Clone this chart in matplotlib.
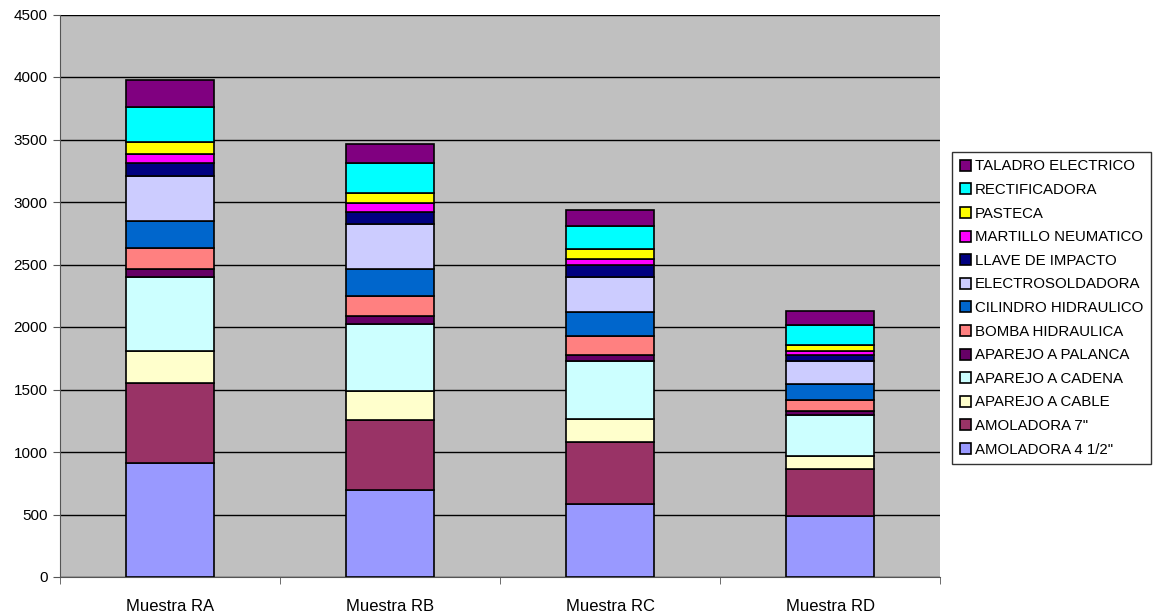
import matplotlib.pyplot as plt
import numpy as np

plt.rcParams['font.family'] = ['Liberation Sans', 'DejaVu Sans']

muestras = ["Muestra RA", "Muestra RB", "Muestra RC", "Muestra RD"]

# series, bottom to top of the stack
series = [
    "AMOLADORA 4 1/2\"", "AMOLADORA 7\"", "APAREJO A CABLE", "APAREJO A CADENA",
    "APAREJO A PALANCA", "BOMBA HIDRAULICA", "CILINDRO HIDRAULICO", "ELECTROSOLDADORA",
    "LLAVE DE IMPACTO", "MARTILLO NEUMATICO", "PASTECA", "RECTIFICADORA", "TALADRO ELECTRICO",
]
amoladora_4 = [910, 700, 585, 486]
amoladora_7 = [642, 559, 495, 376]
aparejo_cable = [254, 229, 187, 106]
aparejo_cadena = [594, 539, 464, 328]
aparejo_palanca = [62, 59, 43, 32]
bomba_hidraulica = [170, 160, 157, 91]
cilindro_hidraulico = [219, 218, 192, 125]
electrosoldadora = [360, 358, 277, 184]
llave_impacto = [104, 98, 96, 51]
martillo_neumatico = [69, 70, 51, 29]
pasteca = [94, 82, 75, 51]
rectificadora = [282, 238, 186, 160]
taladro_electrico = [215, 151, 128, 112]

values = [amoladora_4, amoladora_7, aparejo_cable, aparejo_cadena, aparejo_palanca,
          bomba_hidraulica, cilindro_hidraulico, electrosoldadora, llave_impacto,
          martillo_neumatico, pasteca, rectificadora, taladro_electrico]
colors = ["#9999FF", "#993366", "#FFFFCC", "#CCFFFF", "#660066", "#FF8080", "#0066CC",
          "#CCCCFF", "#000080", "#FF00FF", "#FFFF00", "#00FFFF", "#800080"]

W, H = 1154, 615
fig = plt.figure(figsize=(W / 100, H / 100), dpi=100)
ax = fig.add_axes([60 / W, 1 - 577 / H, 880 / W, (577 - 14.5) / H])
ax.set_facecolor("#C0C0C0")

x = np.arange(len(muestras))
bottom = np.zeros(len(muestras))
handles = []
for name, vals, col in zip(series, values, colors):
    b = ax.bar(x, vals, 0.4, bottom=bottom, color=col, edgecolor="black",
               linewidth=1.2, label=name, zorder=3)
    handles.append(b)
    bottom += np.array(vals)

ax.set_xlim(-0.5, len(muestras) - 0.5)
ax.set_ylim(0, 4500)
ax.set_yticks(np.arange(0, 4501, 500))
ax.yaxis.grid(True, color="black", linewidth=1, zorder=1)
ax.set_axisbelow(True)

ax.set_xticks(x)
ax.set_xticklabels(muestras, fontsize=12)
ax.set_xticks(np.arange(-0.5, len(muestras)), minor=True)
ax.tick_params(axis="x", which="major", length=0, pad=16)
ax.tick_params(axis="x", which="minor", length=5, color="#555555")
ax.tick_params(axis="y", length=5, color="#555555", labelsize=11, pad=4)

for side in ["top", "right"]:
    ax.spines[side].set_visible(False)
ax.spines["left"].set_color("#555555")
ax.spines["bottom"].set_color("#555555")

leg = ax.legend(handles[::-1], series[::-1], loc="upper left",
                bbox_to_anchor=(952 / W, 1 - 152 / H), bbox_transform=fig.transFigure,
                fontsize=10.8, frameon=True, fancybox=False, edgecolor="black",
                handlelength=0.75, handleheight=0.75, handletextpad=0.3,
                labelspacing=0.64, borderpad=0.5, borderaxespad=0)
leg.get_frame().set_linewidth(1)

fig.savefig("out.png", dpi=100, facecolor="white")
